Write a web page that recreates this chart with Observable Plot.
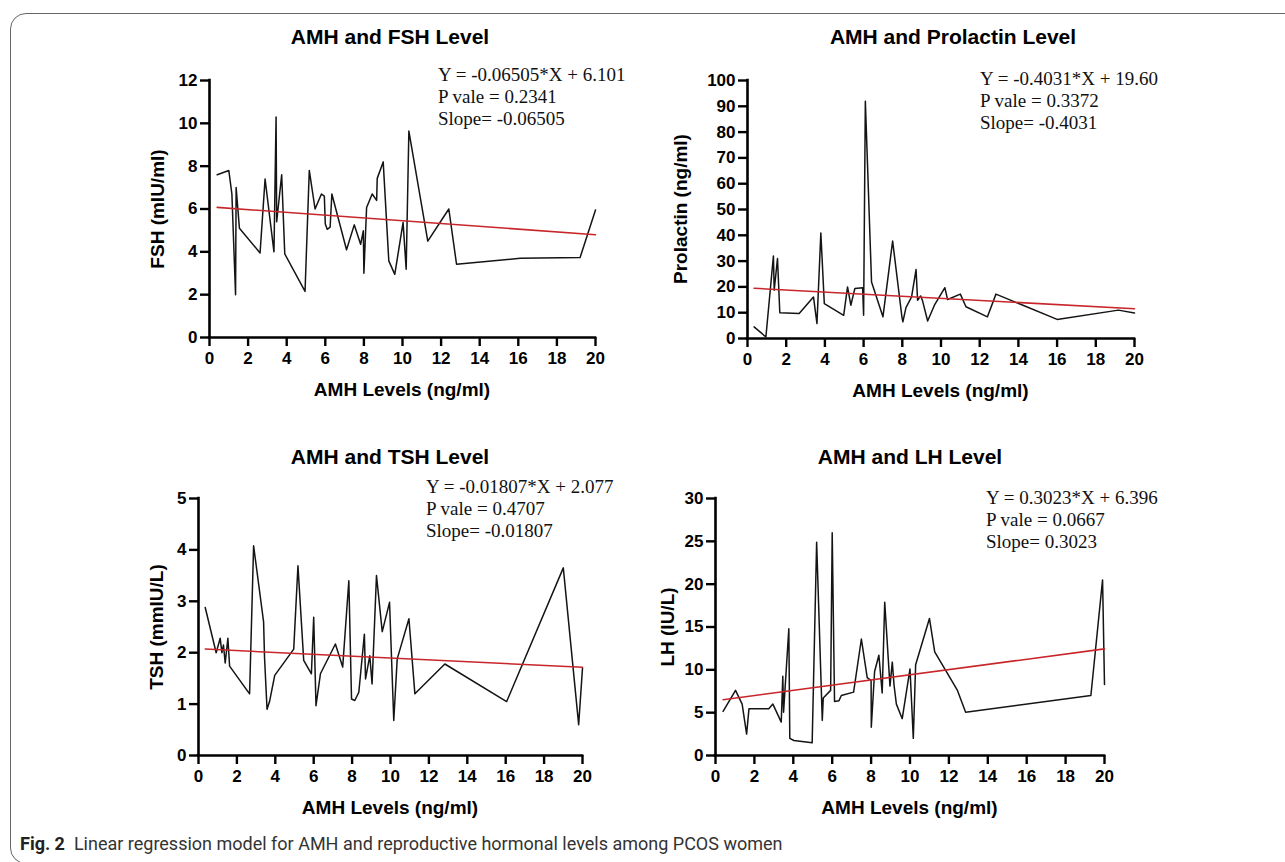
<!DOCTYPE html>
<html><head><meta charset="utf-8">
<script src="https://cdn.jsdelivr.net/npm/d3@7"></script>
<script src="https://cdn.jsdelivr.net/npm/@observablehq/plot@0.6"></script>
<style>
html,body{margin:0;padding:0;background:#fff;overflow:hidden;width:1285px;height:862px;}
#root{position:relative;width:1285px;height:862px;overflow:hidden;}
.frame{position:absolute;left:10px;top:13px;width:1300px;height:851px;border:1.5px solid #666;border-radius:16px;box-sizing:border-box;}
.title{position:absolute;font:bold 21px "Liberation Sans",Arial,sans-serif;line-height:21px;transform:translateX(-50%);white-space:nowrap;color:#000;}
.xt{position:absolute;font:bold 19px "Liberation Sans",Arial,sans-serif;line-height:19px;transform:translateX(-50%);white-space:nowrap;color:#000;}
.yt{position:absolute;font:bold 19px "Liberation Sans",Arial,sans-serif;line-height:19px;transform:translate(-50%,-50%) rotate(-90deg);white-space:nowrap;color:#000;}
.eq{position:absolute;font:19px "Liberation Serif","Times New Roman",serif;line-height:22px;white-space:pre;color:#111;}
.caption{position:absolute;left:20px;top:833px;font:18px Roboto,"Open Sans",sans-serif;color:#333;white-space:nowrap;}
.caption b{font-weight:700;color:#222;}
</style>
</head><body>
<div id="root"><div class="frame"></div></div>
<script>
// ---- data ----
const xTicks = [0,2,4,6,8,10,12,14,16,18,20];

const fshX = [0.4,1.0,1.16,1.35,1.38,1.55,2.62,2.88,3.34,3.45,3.48,3.74,3.9,4.95,5.17,5.47,5.8,5.95,6.0,6.1,6.25,6.34,7.1,7.5,7.83,7.97,8.0,8.14,8.43,8.66,8.69,9.0,9.29,9.6,10.03,10.19,10.33,11.31,12.4,12.8,16.1,19.2,20.0];
const fshY = [7.6,7.8,6.7,2.0,7.0,5.1,3.95,7.4,4.0,10.3,5.4,7.6,3.9,2.15,7.8,6.0,6.7,6.6,5.3,5.05,5.15,6.7,4.1,5.26,4.35,4.98,3.0,6.07,6.7,6.4,7.43,8.2,3.58,2.95,5.37,3.19,9.64,4.5,6.0,3.42,3.7,3.73,5.95];
const fshTicks = [0,2,4,6,8,10,12];

const prlX = [0.34,0.95,1.34,1.38,1.55,1.67,2.67,3.41,3.59,3.79,3.97,4.97,5.17,5.34,5.55,5.95,6.0,6.09,6.41,7.0,7.5,7.98,8.03,8.19,8.48,8.71,8.79,8.95,9.05,9.31,9.66,10.2,10.34,11.0,11.29,12.4,12.84,16.0,19.17,20.0];
const prlY = [4.5,0.6,32,18.7,31,10,9.7,16.1,5.8,40.9,13.5,9.0,20,12.9,19.4,19.7,9.0,92,21.9,8.4,37.8,8.4,6.5,12,16.1,26.7,14.8,16.5,14.5,6.8,12.9,19.7,15.1,17.2,12.3,8.4,17.2,7.4,11.0,9.9];
const prlTicks = [0,10,20,30,40,50,60,70,80,90,100];

const tshX = [0.35,0.92,1.13,1.22,1.3,1.39,1.53,1.62,2.66,2.87,3.39,3.44,3.57,3.7,3.97,4.96,5.18,5.48,5.88,6.0,6.12,6.35,7.13,7.51,7.83,7.97,8.14,8.35,8.64,8.7,8.92,9.04,9.27,9.57,9.95,10.17,10.35,10.96,11.27,12.83,16.05,19.0,19.8,20.0];
const tshY = [2.88,2.0,2.28,2.0,2.15,1.8,2.28,1.74,1.2,4.08,2.6,1.9,0.9,1.05,1.56,2.07,3.69,1.85,1.59,2.69,0.97,1.59,2.17,1.72,3.4,1.1,1.07,1.23,2.36,1.49,1.94,1.39,3.5,2.41,2.98,0.68,1.88,2.66,1.2,1.78,1.05,3.65,0.6,1.7];
const tshTicks = [0,1,2,3,4,5];

const lhX = [0.39,1.03,1.37,1.6,1.72,2.74,2.95,3.38,3.46,3.5,3.77,3.82,4.03,4.97,5.2,5.49,5.54,5.92,6.0,6.12,6.35,6.47,7.1,7.5,7.8,8.0,8.01,8.18,8.4,8.57,8.7,8.97,9.09,9.18,9.3,9.6,10.0,10.17,10.29,11.0,11.27,12.44,12.86,19.3,19.9,20.0];
const lhY = [5.14,7.6,6.0,2.5,5.45,5.45,6.0,3.9,9.26,5.06,14.8,2.0,1.75,1.48,24.9,4.1,6.7,7.6,26,6.3,6.4,7.0,7.4,13.6,9.1,8.75,3.3,9.8,11.7,7.3,17.9,8.1,10.9,8.2,6.0,4.3,10.1,2.0,10.6,16.0,12.1,7.6,5.06,7.0,20.5,8.3];
const lhTicks = [0,5,10,15,20,25,30];

// regression results as printed on the figure
const panelTitles = ["AMH and FSH Level","AMH and Prolactin Level","AMH and TSH Level","AMH and LH Level"];
const yTitles = ["FSH (mIU/ml)","Prolactin (ng/ml)","TSH (mmIU/L)","LH (IU/L)"];
const xTitle = "AMH Levels (ng/ml)";
const slopes = [-0.06505,-0.4031,-0.01807,0.3023];
const intercepts = [6.101,19.60,2.077,6.396];
const eqLines = [
  ["Y = -0.06505*X + 6.101","P vale = 0.2341","Slope= -0.06505"],
  ["Y = -0.4031*X + 19.60","P vale = 0.3372","Slope= -0.4031"],
  ["Y = -0.01807*X + 2.077","P vale = 0.4707","Slope= -0.01807"],
  ["Y = 0.3023*X + 6.396","P vale = 0.0667","Slope= 0.3023"]
];

// ---- layout ----
const layouts = [
  {xL:209,xR:595,yT:80,yB:337,titleX:390,titleY:36,eqX:438,eqY:64,ytX:157,xtY:389},
  {xL:747,xR:1134,yT:80,yB:338,titleX:953,titleY:36,eqX:980,eqY:68,ytX:680,xtY:390},
  {xL:198,xR:582,yT:498,yB:755,titleX:390,titleY:456,eqX:426,eqY:476,ytX:156,xtY:807},
  {xL:715,xR:1104,yT:498,yB:755,titleX:910,titleY:456,eqX:986,eqY:487,ytX:667,xtY:807}
];
const series = [[fshX,fshY,fshTicks],[prlX,prlY,prlTicks],[tshX,tshY,tshTicks],[lhX,lhY,lhTicks]];

const root = document.getElementById("root");
const FONT = '"Liberation Sans", Arial, sans-serif';

series.forEach(([xs, ys, yt], i) => {
  const L = layouts[i];
  const pad = {l: 70, r: 24, t: 14, b: 36};
  const width = (L.xR - L.xL) + pad.l + pad.r;
  const height = (L.yB - L.yT) + pad.t + pad.b;
  const data = xs.map((x, k) => ({x, y: ys[k]}));
  const x0 = d3.min(xs), x1 = d3.max(xs);
  const reg = [x0, x1].map(x => ({x, y: slopes[i] * x + intercepts[i]}));
  const chart = Plot.plot({
    width, height,
    marginLeft: pad.l, marginRight: pad.r, marginTop: pad.t, marginBottom: pad.b,
    style: {fontFamily: FONT, background: "transparent", overflow: "visible", color: "#000"},
    x: {domain: [0, 20]},
    y: {domain: [0, yt[yt.length - 1]]},
    marks: [
      Plot.axisX({ticks: xTicks, tickSize: 9, tickPadding: 5, strokeWidth: 2.4, fontSize: 17, fontWeight: "bold", label: null, tickFormat: d => String(d)}),
      Plot.axisY({ticks: yt, tickSize: 9, tickPadding: 3, strokeWidth: 2.4, fontSize: 17, fontWeight: "bold", label: null, tickFormat: d => String(d)}),
      Plot.ruleX([0], {strokeWidth: 2.6, strokeLinecap: "square"}),
      Plot.ruleY([0], {strokeWidth: 2.6, strokeLinecap: "square"}),
      Plot.line(data, {x: "x", y: "y", stroke: "#141414", strokeWidth: 1.5}),
      Plot.line(reg, {x: "x", y: "y", stroke: "#c8262b", strokeWidth: 1.6})
    ]
  });
  chart.style.position = "absolute";
  chart.style.left = (L.xL - pad.l) + "px";
  chart.style.top = (L.yT - pad.t) + "px";
  root.appendChild(chart);

  const t = document.createElement("div");
  t.className = "title"; t.textContent = panelTitles[i];
  t.style.left = L.titleX + "px"; t.style.top = (L.titleY - 10) + "px";
  root.appendChild(t);

  const xt = document.createElement("div");
  xt.className = "xt"; xt.textContent = xTitle;
  xt.style.left = ((L.xL + L.xR) / 2) + "px"; xt.style.top = (L.xtY - 9) + "px";
  root.appendChild(xt);

  const ytl = document.createElement("div");
  ytl.className = "yt"; ytl.textContent = yTitles[i];
  ytl.style.left = L.ytX + "px"; ytl.style.top = ((L.yT + L.yB) / 2) + "px";
  root.appendChild(ytl);

  const eq = document.createElement("div");
  eq.className = "eq"; eq.textContent = eqLines[i].join("\n");
  eq.style.left = L.eqX + "px"; eq.style.top = L.eqY + "px";
  root.appendChild(eq);
});

const cap = document.createElement("div");
cap.className = "caption";
cap.innerHTML = "<b>Fig. 2</b>&nbsp; Linear regression model for AMH and reproductive hormonal levels among PCOS women";
root.appendChild(cap);
</script>
</body></html>
